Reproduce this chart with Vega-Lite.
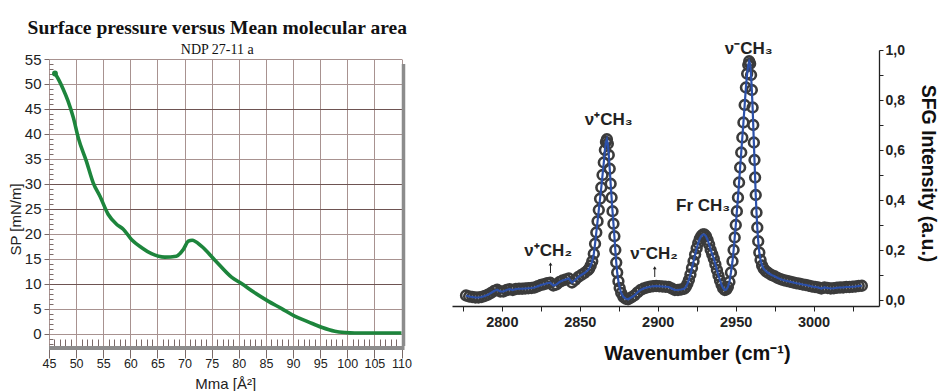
{
  "$schema": "https://vega.github.io/schema/vega-lite/v6.json",
  "background": "white",
  "padding": {"left": 8, "top": 17, "right": 6, "bottom": 0},
  "bounds": "flush",
  "spacing": 50,
  "config": {"view": {"stroke": null}, "font": "Liberation Sans"},
  "datasets": {
    "isotherm": [
      {"mma": 46.1, "sp": 52.1}, {"mma": 46.4, "sp": 51.6}, {"mma": 47.6, "sp": 49.0}, {"mma": 48.5, "sp": 46.6},
      {"mma": 49.5, "sp": 43.2}, {"mma": 50.4, "sp": 39.2}, {"mma": 51.9, "sp": 34.5}, {"mma": 53.15, "sp": 30.2},
      {"mma": 54.4, "sp": 27.5}, {"mma": 55.9, "sp": 23.9}, {"mma": 57.45, "sp": 21.9}, {"mma": 58.7, "sp": 20.9},
      {"mma": 60.2, "sp": 18.85}, {"mma": 62.1, "sp": 17.2}, {"mma": 63.9, "sp": 16.0}, {"mma": 66.35, "sp": 15.3},
      {"mma": 68.5, "sp": 15.5}, {"mma": 69.75, "sp": 16.8}, {"mma": 70.7, "sp": 18.5}, {"mma": 71.4, "sp": 18.7},
      {"mma": 73.1, "sp": 17.5}, {"mma": 75.6, "sp": 14.7}, {"mma": 78.65, "sp": 11.3}, {"mma": 80.5, "sp": 10.0},
      {"mma": 82.95, "sp": 8.15}, {"mma": 85.4, "sp": 6.5}, {"mma": 87.9, "sp": 5.0}, {"mma": 90.3, "sp": 3.5},
      {"mma": 92.8, "sp": 2.35}, {"mma": 95.25, "sp": 1.25}, {"mma": 97.7, "sp": 0.45}, {"mma": 99.55, "sp": 0.2},
      {"mma": 101.4, "sp": 0.1}, {"mma": 110, "sp": 0.1}
    ],
    "sfg": [
      {"wn": 2777, "i": 0.018}, {"wn": 2779, "i": 0.014}, {"wn": 2781, "i": 0.012}, {"wn": 2783, "i": 0.010},
      {"wn": 2785, "i": 0.010}, {"wn": 2787, "i": 0.012}, {"wn": 2789, "i": 0.016}, {"wn": 2791, "i": 0.021},
      {"wn": 2793, "i": 0.028}, {"wn": 2795, "i": 0.036}, {"wn": 2797, "i": 0.041}, {"wn": 2799, "i": 0.034},
      {"wn": 2801, "i": 0.034}, {"wn": 2803, "i": 0.040}, {"wn": 2805, "i": 0.043}, {"wn": 2807, "i": 0.040},
      {"wn": 2809, "i": 0.044}, {"wn": 2811, "i": 0.045}, {"wn": 2813, "i": 0.045}, {"wn": 2815, "i": 0.046},
      {"wn": 2817, "i": 0.047}, {"wn": 2819, "i": 0.048}, {"wn": 2821, "i": 0.050}, {"wn": 2823, "i": 0.055},
      {"wn": 2825, "i": 0.060}, {"wn": 2827, "i": 0.063}, {"wn": 2829, "i": 0.067}, {"wn": 2831, "i": 0.069},
      {"wn": 2833, "i": 0.058}, {"wn": 2835, "i": 0.062}, {"wn": 2837, "i": 0.072}, {"wn": 2839, "i": 0.078},
      {"wn": 2841, "i": 0.082}, {"wn": 2843, "i": 0.086}, {"wn": 2845, "i": 0.070}, {"wn": 2847, "i": 0.080},
      {"wn": 2849, "i": 0.092}, {"wn": 2851, "i": 0.100}, {"wn": 2853, "i": 0.108}, {"wn": 2855, "i": 0.118},
      {"wn": 2856, "i": 0.125}, {"wn": 2857, "i": 0.138}, {"wn": 2858, "i": 0.155}, {"wn": 2859, "i": 0.185},
      {"wn": 2859.8, "i": 0.225}, {"wn": 2860.6, "i": 0.270}, {"wn": 2861.4, "i": 0.315}, {"wn": 2862.2, "i": 0.360},
      {"wn": 2863, "i": 0.405}, {"wn": 2863.8, "i": 0.450}, {"wn": 2864.6, "i": 0.500}, {"wn": 2865.4, "i": 0.550},
      {"wn": 2866.1, "i": 0.600}, {"wn": 2866.8, "i": 0.632}, {"wn": 2867.4, "i": 0.643}, {"wn": 2868, "i": 0.625},
      {"wn": 2868.6, "i": 0.580}, {"wn": 2869.2, "i": 0.525}, {"wn": 2869.8, "i": 0.465}, {"wn": 2870.4, "i": 0.410},
      {"wn": 2871, "i": 0.355}, {"wn": 2871.6, "i": 0.305}, {"wn": 2872.2, "i": 0.255}, {"wn": 2872.8, "i": 0.200},
      {"wn": 2873.4, "i": 0.150}, {"wn": 2874, "i": 0.110}, {"wn": 2874.8, "i": 0.075}, {"wn": 2875.6, "i": 0.048},
      {"wn": 2876.6, "i": 0.028}, {"wn": 2878, "i": 0.012}, {"wn": 2879.5, "i": 0.005}, {"wn": 2881, "i": 0.003},
      {"wn": 2883, "i": 0.010}, {"wn": 2885, "i": 0.018}, {"wn": 2887, "i": 0.030}, {"wn": 2889, "i": 0.040},
      {"wn": 2891, "i": 0.046}, {"wn": 2893, "i": 0.050}, {"wn": 2895, "i": 0.053}, {"wn": 2897, "i": 0.055},
      {"wn": 2899, "i": 0.056}, {"wn": 2901, "i": 0.055}, {"wn": 2903, "i": 0.054}, {"wn": 2905, "i": 0.053},
      {"wn": 2907, "i": 0.052}, {"wn": 2909, "i": 0.046}, {"wn": 2911, "i": 0.040}, {"wn": 2913, "i": 0.040},
      {"wn": 2915, "i": 0.042}, {"wn": 2917, "i": 0.045}, {"wn": 2918, "i": 0.052}, {"wn": 2919, "i": 0.064},
      {"wn": 2920, "i": 0.080}, {"wn": 2921, "i": 0.102}, {"wn": 2922, "i": 0.128}, {"wn": 2923, "i": 0.155},
      {"wn": 2924, "i": 0.182}, {"wn": 2925, "i": 0.207}, {"wn": 2926, "i": 0.228}, {"wn": 2927, "i": 0.245},
      {"wn": 2928, "i": 0.256}, {"wn": 2929, "i": 0.262}, {"wn": 2930, "i": 0.262}, {"wn": 2931, "i": 0.255},
      {"wn": 2932, "i": 0.240}, {"wn": 2933, "i": 0.222}, {"wn": 2934, "i": 0.200}, {"wn": 2935, "i": 0.183},
      {"wn": 2936, "i": 0.165}, {"wn": 2937, "i": 0.143}, {"wn": 2938, "i": 0.120}, {"wn": 2939, "i": 0.098},
      {"wn": 2940, "i": 0.078}, {"wn": 2941, "i": 0.060}, {"wn": 2942, "i": 0.047}, {"wn": 2943, "i": 0.040},
      {"wn": 2944, "i": 0.042}, {"wn": 2945, "i": 0.052}, {"wn": 2946, "i": 0.072}, {"wn": 2947, "i": 0.110},
      {"wn": 2948, "i": 0.155}, {"wn": 2948.7, "i": 0.200}, {"wn": 2949.4, "i": 0.250}, {"wn": 2950.1, "i": 0.300},
      {"wn": 2950.8, "i": 0.355}, {"wn": 2951.5, "i": 0.410}, {"wn": 2952.2, "i": 0.470}, {"wn": 2952.9, "i": 0.530},
      {"wn": 2953.6, "i": 0.590}, {"wn": 2954.3, "i": 0.650}, {"wn": 2955, "i": 0.710}, {"wn": 2955.8, "i": 0.780},
      {"wn": 2956.6, "i": 0.850}, {"wn": 2957.4, "i": 0.905}, {"wn": 2958.1, "i": 0.940}, {"wn": 2958.7, "i": 0.955},
      {"wn": 2959.3, "i": 0.945}, {"wn": 2959.9, "i": 0.900}, {"wn": 2960.4, "i": 0.840}, {"wn": 2960.9, "i": 0.770},
      {"wn": 2961.3, "i": 0.700}, {"wn": 2961.7, "i": 0.630}, {"wn": 2962.1, "i": 0.560}, {"wn": 2962.5, "i": 0.490},
      {"wn": 2962.9, "i": 0.420}, {"wn": 2963.4, "i": 0.350}, {"wn": 2963.9, "i": 0.290}, {"wn": 2964.5, "i": 0.235},
      {"wn": 2965.2, "i": 0.190}, {"wn": 2966, "i": 0.160}, {"wn": 2967, "i": 0.138}, {"wn": 2968, "i": 0.125},
      {"wn": 2969.5, "i": 0.115}, {"wn": 2971, "i": 0.108}, {"wn": 2973, "i": 0.100}, {"wn": 2975, "i": 0.095},
      {"wn": 2977, "i": 0.088}, {"wn": 2979, "i": 0.083}, {"wn": 2981, "i": 0.079}, {"wn": 2983, "i": 0.076},
      {"wn": 2985, "i": 0.073}, {"wn": 2987, "i": 0.070}, {"wn": 2989, "i": 0.067}, {"wn": 2991, "i": 0.065},
      {"wn": 2993, "i": 0.062}, {"wn": 2995, "i": 0.060}, {"wn": 2997, "i": 0.057}, {"wn": 2999, "i": 0.054},
      {"wn": 3001, "i": 0.052}, {"wn": 3003, "i": 0.050}, {"wn": 3005, "i": 0.046}, {"wn": 3007, "i": 0.050},
      {"wn": 3009, "i": 0.048}, {"wn": 3011, "i": 0.046}, {"wn": 3013, "i": 0.047}, {"wn": 3015, "i": 0.049},
      {"wn": 3017, "i": 0.050}, {"wn": 3019, "i": 0.050}, {"wn": 3021, "i": 0.052}, {"wn": 3023, "i": 0.052},
      {"wn": 3025, "i": 0.053}, {"wn": 3027, "i": 0.054}, {"wn": 3029, "i": 0.056}, {"wn": 3031, "i": 0.057}
    ],
    "bands": [
      {"label": "ν⁺CH₃", "wn": 2868.6, "i": 0.70},
      {"label": "ν⁻CH₃", "wn": 2958.4, "i": 0.984},
      {"label": "Fr CH₃", "wn": 2929.1, "i": 0.356},
      {"label": "ν⁺CH₂", "wn": 2829.7, "i": 0.176},
      {"label": "ν⁻CH₂", "wn": 2897.6, "i": 0.164}
    ],
    "arrows": [
      {"wn": 2831.2, "from": 0.108, "to": 0.144},
      {"wn": 2898.1, "from": 0.092, "to": 0.129}
    ]
  },
  "hconcat": [
    {
      "width": 352.5,
      "height": 287,
      "title": {
        "text": "Surface pressure versus Mean molecular area",
        "subtitle": "NDP 27-11 a",
        "font": "Liberation Serif",
        "fontSize": 19.5,
        "fontWeight": "bold",
        "color": "#111111",
        "subtitleFont": "Liberation Serif",
        "subtitleFontSize": 14,
        "subtitleColor": "#111111",
        "anchor": "middle",
        "dx": -8,
        "offset": -6,
        "subtitlePadding": 5
      },
      "layer": [
        {
          "data": {"name": "isotherm"},
          "mark": {"type": "line", "color": "#1d853c", "strokeWidth": 3.6, "interpolate": "monotone"},
          "encoding": {
            "x": {
              "field": "mma",
              "type": "quantitative",
              "scale": {"domain": [45, 110], "nice": false, "zero": false},
              "axis": {
                "title": "Mma [Å²]",
                "titleFontSize": 15,
                "titleFontWeight": "normal",
                "titleColor": "#222222",
                "titleY": 30,
                "tickCount": 500,
                "format": "d",
                "values": [45,46,47,48,49,50,51,52,53,54,55,56,57,58,59,60,61,62,63,64,65,66,67,68,69,70,71,72,73,74,75,76,77,78,79,80,81,82,83,84,85,86,87,88,89,90,91,92,93,94,95,96,97,98,99,100,101,102,103,104,105,106,107,108,109,110],
                "labelExpr": "datum.value % 5 === 0 ? datum.label : ''",
                "labelFontSize": 12.5,
                "labelColor": "#222222",
                "labelPadding": -1,
                "labelFlush": false,
                "labelOverlap": false,
                "tickSize": {"condition": {"test": "datum.value % 5 === 0", "value": 12}, "value": -7},
                "tickColor": "#7a6a68",
                "tickWidth": 1,
                "grid": true,
                "gridColor": "#a89290",
                "gridOpacity": {"condition": {"test": "datum.value % 5 !== 0", "value": 0}, "value": 1},
                "domain": false
              }
            },
            "y": {
              "field": "sp",
              "type": "quantitative",
              "scale": {"domain": [-2.5, 55], "nice": false, "zero": false},
              "axis": {
                "title": "SP [mN/m]",
                "titleFontSize": 15,
                "titleFontWeight": "normal",
                "titleColor": "#222222",
                "titleX": -26,
                "titleY": 160,
                "tickCount": 500,
                "format": "d",
                "values": [-2,-1,0,1,2,3,4,5,6,7,8,9,10,11,12,13,14,15,16,17,18,19,20,21,22,23,24,25,26,27,28,29,30,31,32,33,34,35,36,37,38,39,40,41,42,43,44,45,46,47,48,49,50,51,52,53,54,55],
                "labelExpr": "datum.value % 5 === 0 ? datum.label : ''",
                "labelFontSize": 15,
                "labelColor": "#222222",
                "labelPadding": 3,
                "labelFlush": false,
                "labelOverlap": false,
                "tickSize": {"condition": {"test": "datum.value % 5 === 0", "value": 5}, "value": -4},
                "tickColor": "#7a6a68",
                "grid": true,
                "gridColor": {"condition": {"test": "indexof([10, 25, 30, 45], datum.value) >= 0", "value": "#6e5452"}, "value": "#a89290"},
                "gridOpacity": {"condition": {"test": "datum.value % 5 !== 0", "value": 0}, "value": 1},
                "domain": false
              }
            }
          }
        },
        {
          "data": {"name": "isotherm"},
          "transform": [{"filter": "datum.mma < 46.2"}],
          "mark": {"type": "point", "filled": true, "color": "#1d853c", "size": 34, "opacity": 1},
          "encoding": {
            "x": {"field": "mma", "type": "quantitative"},
            "y": {"field": "sp", "type": "quantitative"}
          }
        },
        {
          "data": {"values": [{}]},
          "mark": {"type": "rule", "color": "#8c8c8c", "strokeWidth": 4, "yOffset": 2, "x2Offset": 3},
          "encoding": {
            "x": {"datum": 45, "type": "quantitative"},
            "x2": {"datum": 110},
            "y": {"datum": -2.5, "type": "quantitative"}
          }
        },
        {
          "data": {"values": [{}]},
          "mark": {"type": "rule", "color": "#8c8c8c", "strokeWidth": 3.5, "xOffset": 2, "y2Offset": 5},
          "encoding": {
            "x": {"datum": 110, "type": "quantitative"},
            "y": {"datum": -2.5, "type": "quantitative"},
            "y2": {"datum": 55}
          }
        }
      ]
    },
    {
      "width": 427,
      "height": 247,
      "layer": [
        {
          "data": {"name": "sfg"},
          "mark": {"type": "point", "filled": false, "size": 95, "strokeWidth": 2.6, "color": "#3b3b3b", "opacity": 1},
          "encoding": {
            "x": {
              "field": "wn",
              "type": "quantitative",
              "scale": {"domain": [2768, 3042], "nice": false, "zero": false},
              "axis": {
                "title": "Wavenumber (cm⁻¹)",
                "titleFont": "Liberation Sans",
                "titleFontSize": 20,
                "titleFontWeight": "bold",
                "titleColor": "#111111",
                "titleX": 245,
                "titleY": 53,
                "titleBaseline": "alphabetic",
                "tickCount": 100,
                "values": [2775, 2800, 2825, 2850, 2875, 2900, 2925, 2950, 2975, 3000, 3025],
                "labelExpr": "datum.value % 50 === 0 ? datum.label : ''",
                "format": "d",
                "labelFontSize": 14.5,
                "labelFontWeight": "bold",
                "labelColor": "#222222",
                "labelPadding": 4,
                "labelOverlap": false,
                "tickSize": 5,
                "tickColor": "#222222",
                "domainColor": "#222222",
                "domainWidth": 1.3,
                "grid": false
              }
            },
            "y": {
              "field": "i",
              "type": "quantitative",
              "scale": {"domain": [-0.024, 1.0], "range": [247, -9], "nice": false, "zero": false},
              "axis": {
                "orient": "right",
                "title": "SFG Intensity (a.u.)",
                "titleFontSize": 19.5,
                "titleFontWeight": "bold",
                "titleColor": "#111111",
                "titleAngle": 90,
                "titleBaseline": "middle",
                "titleX": 48,
                "titleY": 114,
                "tickCount": 100,
                "values": [0, 0.1, 0.2, 0.3, 0.4, 0.5, 0.6, 0.7, 0.8, 0.9, 1.0],
                "labelExpr": "round(datum.value * 10) % 2 === 0 ? replace(format(datum.value, '.1f'), '.', ',') : ''",
                "labelFontSize": 14,
                "labelFontWeight": "bold",
                "labelColor": "#222222",
                "labelPadding": 2,
                "labelOverlap": false,
                "tickSize": 4,
                "tickColor": "#222222",
                "domainColor": "#222222",
                "domainWidth": 1.3,
                "grid": false
              }
            }
          }
        },
        {
          "data": {"name": "sfg"},
          "mark": {"type": "line", "color": "#2b50aa", "strokeWidth": 2.2},
          "encoding": {
            "x": {"field": "wn", "type": "quantitative"},
            "y": {"field": "i", "type": "quantitative"}
          }
        },
        {
          "data": {"name": "arrows"},
          "mark": {"type": "rule", "color": "#222222", "strokeWidth": 1},
          "encoding": {
            "x": {"field": "wn", "type": "quantitative"},
            "y": {"field": "from", "type": "quantitative"},
            "y2": {"field": "to"}
          }
        },
        {
          "data": {"name": "arrows"},
          "mark": {"type": "point", "shape": "triangle-up", "filled": true, "color": "#222222", "size": 14, "opacity": 1},
          "encoding": {
            "x": {"field": "wn", "type": "quantitative"},
            "y": {"field": "to", "type": "quantitative"}
          }
        },
        {
          "data": {"name": "bands"},
          "mark": {"type": "text", "font": "Liberation Sans", "fontWeight": "bold", "fontSize": 17, "baseline": "alphabetic", "align": "center", "color": "#222222"},
          "encoding": {
            "x": {"field": "wn", "type": "quantitative"},
            "y": {"field": "i", "type": "quantitative"},
            "text": {"field": "label"}
          }
        }
      ]
    }
  ]
}
